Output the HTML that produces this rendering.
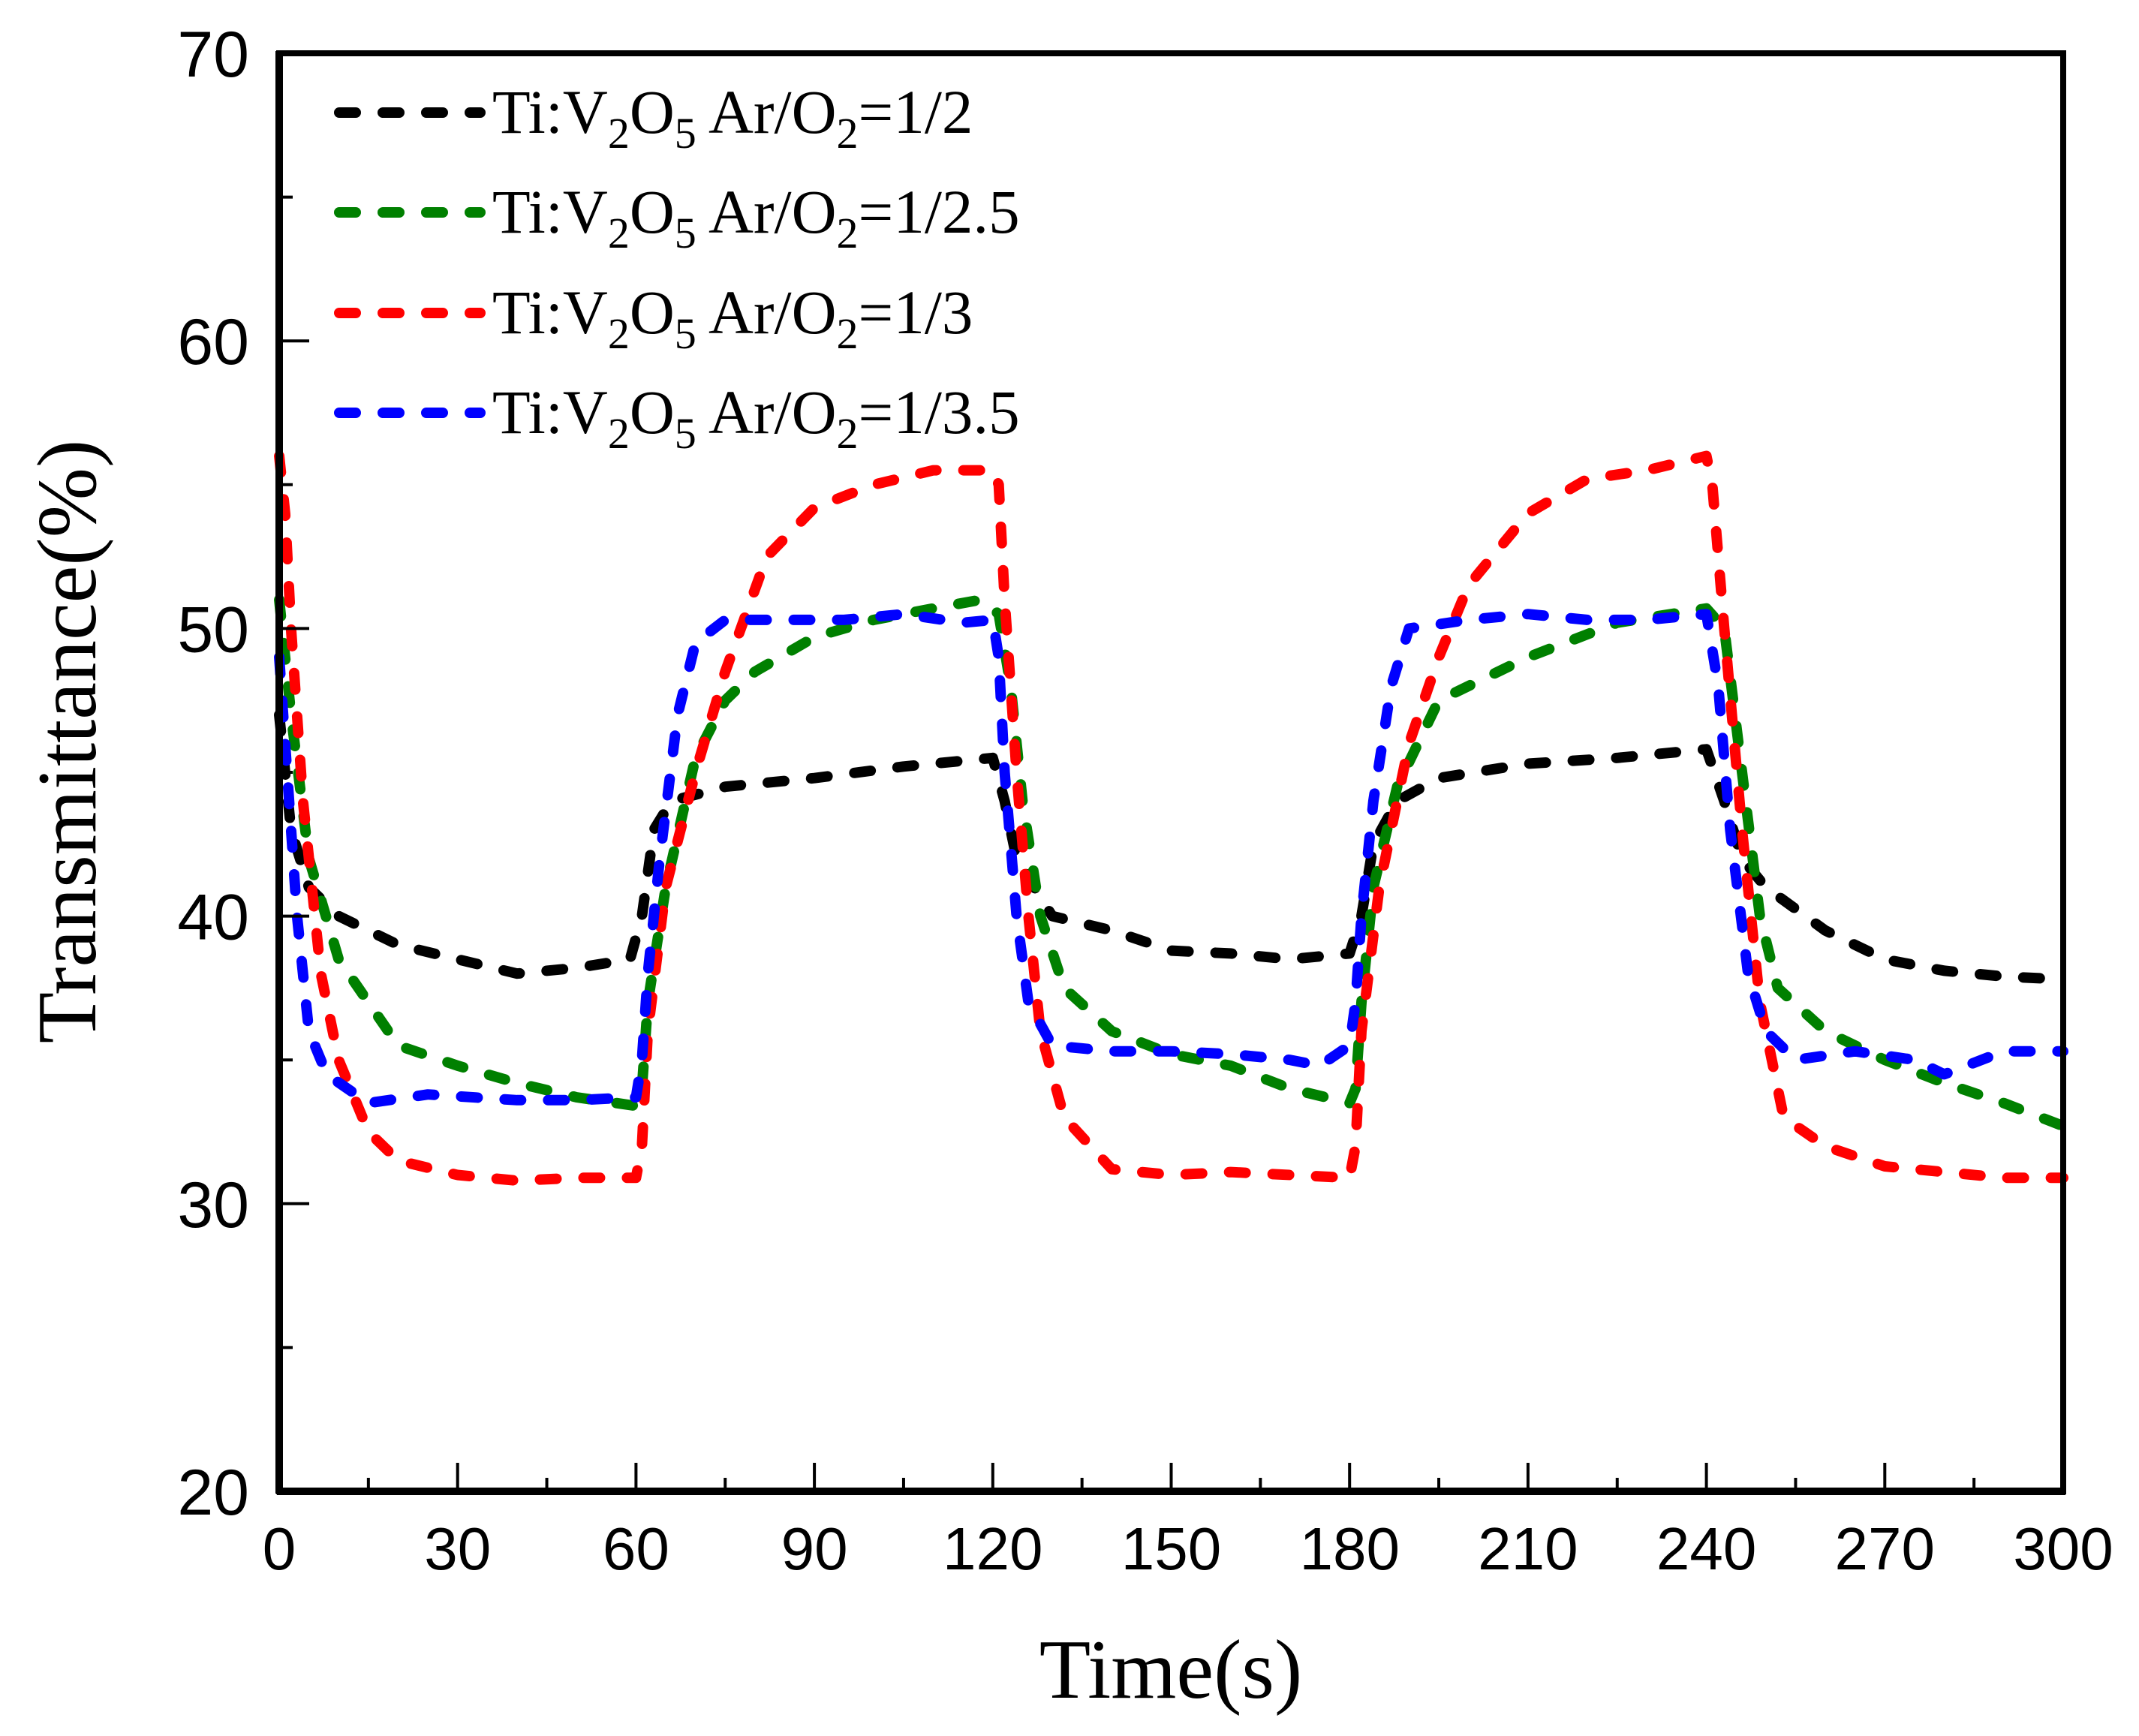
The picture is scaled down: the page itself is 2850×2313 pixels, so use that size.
<!DOCTYPE html>
<html><head><meta charset="utf-8"><style>
html,body{margin:0;padding:0;background:#fff;}
svg{display:block;}
</style></head><body>
<svg id="chart" width="2850" height="2313" viewBox="0 0 2850 2313" xmlns="http://www.w3.org/2000/svg">
<g id="plot"></g>
<g id="axes"></g>
<g id="legend"></g>
<text x="1560" y="2262" text-anchor="middle" font-family="Liberation Serif, serif" font-size="112">Time(s)</text>
<text transform="translate(127,988) rotate(-90)" text-anchor="middle" font-family="Liberation Serif, serif" font-size="112">Transmittance(%)</text>
</svg>
<script>
const xTicks = [0,30,60,90,120,150,180,210,240,270,300];
const yTicks = [20,30,40,50,60,70];
const seriesNames = ["Ti:V2O5 Ar/O2=1/2","Ti:V2O5 Ar/O2=1/2.5","Ti:V2O5 Ar/O2=1/3","Ti:V2O5 Ar/O2=1/3.5"];
const seriesColors = ["#000000","#008000","#ff0000","#0000ff"];
const tBlack = [0,2,5,10,20,30,40,50,59,61,63,66,75,90,105,120,122,124,127,130,140,150,160,170,180,182,184,188,195,210,225,240,243,246,250,260,270,280,290,300];
const vBlack = [47,43,41,40,39,38.5,38,38.2,38.5,40,43,44,44.5,44.8,45.2,45.5,44,42,41,40,39.5,38.8,38.7,38.5,38.7,40,42.5,44,44.8,45.3,45.5,45.8,44,42,41,39.5,38.5,38.1,37.9,37.8];
const tGreen = [0,2,5,10,20,30,40,50,60,61,62,65,70,75,80,90,100,110,118,121,123,125,128,132,140,150,160,170,180,181,182,184,188,195,210,225,240,243,246,249,252,260,270,280,290,300];
const vGreen = [51,47,42,38.5,35.5,34.8,34.2,33.7,33.4,34,37,41,45.5,47.5,48.5,49.7,50.3,50.7,51,50.5,48,44,40,37.5,36,35.2,34.8,34,33.5,34,37,41,44.5,47.5,49,50.2,50.7,50,45,40,37.5,36,35,34.2,33.5,32.7];
const tRed = [0,1,2,4,7,10,15,20,30,40,50,60,61,62,65,70,75,82,90,100,110,120,121,122,124,126,128,132,140,150,160,170,180,181,182,185,190,195,200,210,220,230,240,241,243,246,249,253,260,270,280,290,300];
const vRed = [56,54,50,44,38,35,32.5,31.5,31,30.8,30.9,30.9,32,36,41,45,48.5,52.5,54.2,55,55.5,55.5,55,51,45,40,36,33,31.2,31,31.1,31,30.9,32,36,41,46,49,51.5,54,55.2,55.5,56,55,50,43,37,33,32,31.3,31.1,30.9,30.9];
const tBlue = [0,1,3,5,8,15,25,40,50,60,61,62,64,67,70,75,85,95,105,115,120,121,122,124,126,130,140,150,160,170,175,180,181,182,184,187,190,200,210,220,230,240,242,244,247,250,255,265,275,280,290,300];
const vBlue = [49,46,40,36,34.5,33.5,33.8,33.6,33.6,33.7,35,38,42,47,49.5,50.3,50.3,50.3,50.5,50.2,50.3,49,45,40,37,35.5,35.3,35.3,35.2,35,34.8,35.5,37,40,44,48,50,50.3,50.5,50.3,50.3,50.5,48,43,38,36,35,35.3,35,34.5,35.3,35.3];
const allT = [tBlack,tGreen,tRed,tBlue];
const allV = [vBlack,vGreen,vRed,vBlue];

const X0=372,X1=2749,Y0=1987,Y1=71;
const xs = t => X0 + (t-0)/(300-0)*(X1-X0);
const ys = v => Y0 - (v-20)/(70-20)*(Y0-Y1);
const NS="http://www.w3.org/2000/svg";
function mk(tag, attrs, parent){const e=document.createElementNS(NS,tag);for(const k in attrs)e.setAttribute(k,attrs[k]);parent.appendChild(e);return e;}
const plot=document.getElementById('plot'), axes=document.getElementById('axes'), legend=document.getElementById('legend');

allT.forEach((ts,i)=>{
  const d = ts.map((t,j)=>(j?'L':'M')+xs(t).toFixed(1)+','+ys(allV[i][j]).toFixed(1)).join(' ');
  const p = mk('path',{d:d,fill:'none',stroke:seriesColors[i],'stroke-width':14,'stroke-dasharray':'22 36','stroke-linecap':'round','stroke-linejoin':'round'},plot);
  
  
});

const fr = mk('rect',{x:X0,y:Y1,width:X1-X0,height:Y0-Y1,fill:'none',stroke:'#000','stroke-width':8},axes);


const bx = mk('line',{x1:X0-3,y1:Y0,x2:X1+3,y2:Y0,stroke:'#000','stroke-width':10},axes);


const ly = mk('line',{x1:X0,y1:Y1-3,x2:X0,y2:Y0+3,stroke:'#000','stroke-width':10},axes);



xTicks.forEach((t,i)=>{
  const x=xs(t);
  const tk=mk('line',{x1:x,y1:Y0,x2:x,y2:Y0-38,stroke:'#000','stroke-width':4},axes);
  
  
  if(i<xTicks.length-1){
    const xm=xs((t+xTicks[i+1])/2);
    const mt=mk('line',{x1:xm,y1:Y0,x2:xm,y2:Y0-18,stroke:'#000','stroke-width':4},axes);
    
    
  }
  const lb=mk('text',{x:x,y:2091,'text-anchor':'middle','font-family':'Liberation Sans, sans-serif','font-size':80},axes);
  lb.textContent=t;
  
  
});
yTicks.forEach((v,i)=>{
  const y=ys(v);
  const tk=mk('line',{x1:X0,y1:y,x2:X0+40,y2:y,stroke:'#000','stroke-width':4},axes);
  
  
  if(i<yTicks.length-1){
    const ym=ys((v+yTicks[i+1])/2);
    const mt=mk('line',{x1:X0,y1:ym,x2:X0+18,y2:ym,stroke:'#000','stroke-width':4},axes);
    
    
  }
  const lb=mk('text',{x:332,y:y+31,'text-anchor':'end','font-family':'Liberation Sans, sans-serif','font-size':86},axes);
  lb.textContent=v;
  
  
});

const legRows=[150,283,417,550];
const legLabels=["1/2","1/2.5","1/3","1/3.5"];
seriesNames.forEach((n,i)=>{
  const y=legRows[i];
  const g=mk('g',{},legend);
  
  
  mk('line',{x1:452,y1:y,x2:640,y2:y,stroke:seriesColors[i],'stroke-width':14,'stroke-dasharray':'22 36','stroke-linecap':'round'},g);
  const tx=mk('text',{x:656,y:y+27,'font-family':'Liberation Serif, serif','font-size':83},g);
  tx.innerHTML='Ti:V<tspan font-size="58" dy="20">2</tspan><tspan dy="-20">O</tspan><tspan font-size="58" dy="20">5</tspan><tspan dy="-20"> Ar/O</tspan><tspan font-size="58" dy="20">2</tspan><tspan dy="-20">='+legLabels[i]+'</tspan>';
});
</script>
</body></html>
